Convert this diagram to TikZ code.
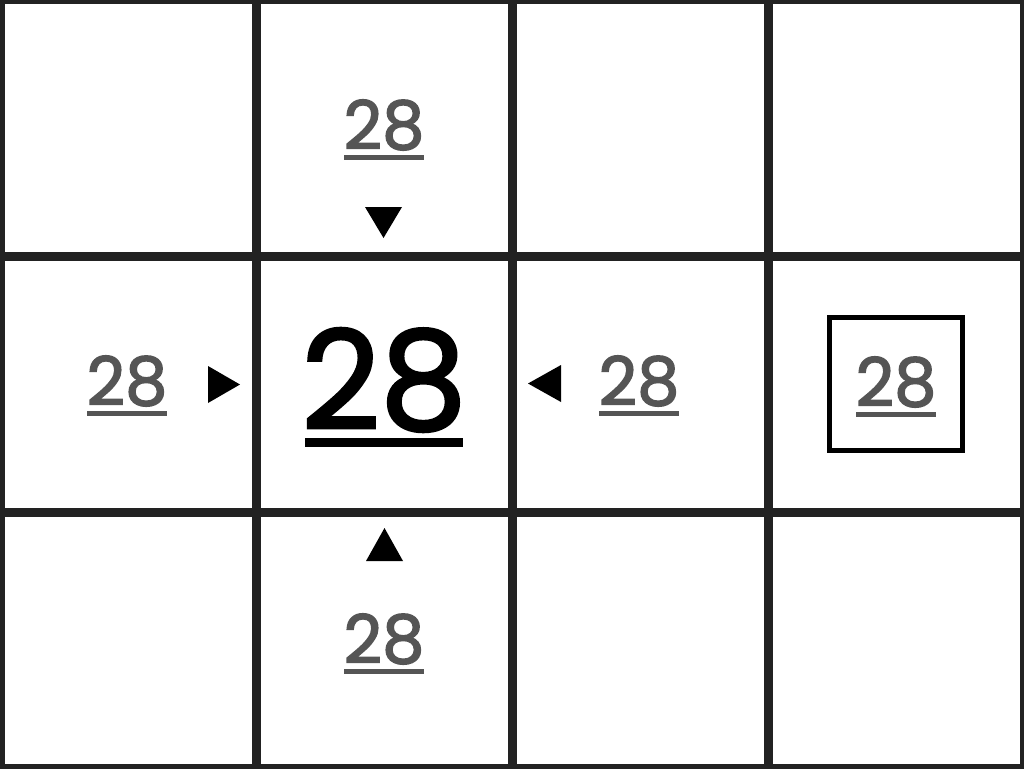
\documentclass[tikz,border=0pt]{standalone}
\usepackage{fontspec}
\setmainfont{Poppins}
\newfontfamily\numfont{Poppins}[FakeBold=2.2]
\definecolor{gridc}{HTML}{222222}
\definecolor{numgray}{HTML}{555555}
\tikzset{
  gridline/.style={draw=gridc, line width=9pt},
  smallnum/.style={inner sep=0pt, text=numgray, font=\numfont\fontsize{67}{67}\selectfont},
  bignum/.style={inner sep=0pt, text=black, font=\numfont\fontsize{137}{137}\selectfont},
  ulsmall/.style={draw=numgray, line width=4.5pt},
  ulbig/.style={draw=black, line width=9pt},
  tri/.style={fill=black},
  framebox/.style={draw=black, line width=5pt}
}
\begin{document}
\begin{tikzpicture}[x=1pt,y=-1pt]
\useasboundingbox (0,0) rectangle (1024,768);
\fill[white] (0,0) rectangle (1024,768);
\begin{scope}
\clip (0,0) rectangle (1024,768);
\foreach \x in {0,256,512,768,1024} \draw[gridline] (\x,0) -- (\x,768);
\foreach \y in {0,256,512,768} \draw[gridline] (0,\y) -- (1024,\y);
\end{scope}
% frame box
\draw[framebox] (829.5,317.5) rectangle (962.5,450.5);
% numbers
\node[bignum] (c) at (384,380) {28};
\draw[ulbig] ([xshift=4pt,yshift=-11pt]c.south west) -- ([xshift=-4pt,yshift=-11pt]c.south east);
\node[smallnum] (t) at (384,125) {28};
\node[smallnum] (l) at (127,381) {28};
\node[smallnum] (r) at (639,381) {28};
\node[smallnum] (b) at (384,639) {28};
\node[smallnum] (k) at (896,382) {28};
\foreach \n in {t,l,r,b,k}
  \draw[ulsmall] ([xshift=1pt,yshift=-7pt]\n.south west) -- ([xshift=-1pt,yshift=-7pt]\n.south east);
% triangles
\fill[tri] (365,207) -- (402,207) -- (383.5,238) -- cycle;
\fill[tri] (208,366) -- (208,403) -- (240,384.5) -- cycle;
\fill[tri] (561,365) -- (561,402) -- (528,383.5) -- cycle;
\fill[tri] (366,561) -- (403,561) -- (384.5,528) -- cycle;
\end{tikzpicture}
\end{document}
